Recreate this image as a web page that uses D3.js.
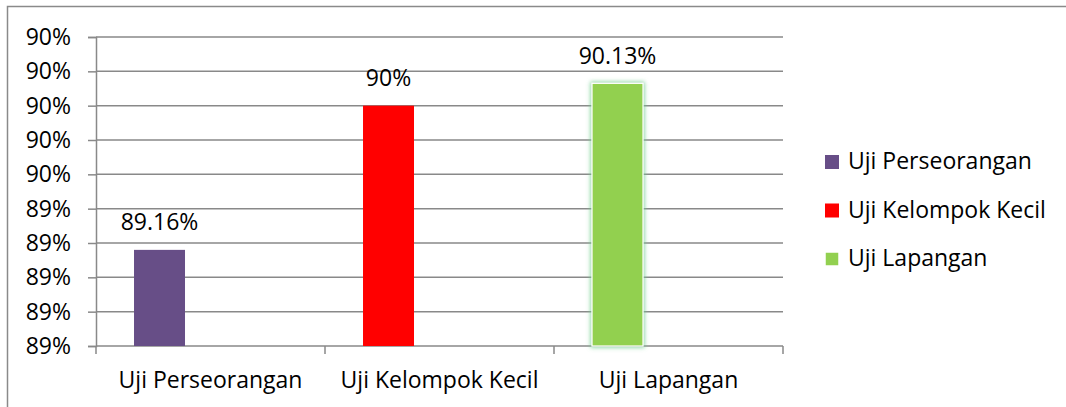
<!DOCTYPE html>
<meta charset="utf-8">
<html lang="id">
<head>
<title>Uji chart</title>
<script src="https://d3js.org/d3.v7.min.js"></script>
<style>
  body { margin: 0; background: #fff; }
  svg text { font-family: "Open Sans", "Noto Sans", sans-serif; fill: #000; }
</style>
</head>
<body>
<svg id="chart" width="1066" height="407"></svg>
<script>

var categories = ["Uji Perseorangan", "Uji Kelompok Kecil", "Uji Lapangan"]
var values = [89.16, 90, 90.13]
var valueLabels = ["89.16%", "90%", "90.13%"]
var yTicks = [88.6, 88.8, 89.0, 89.2, 89.4, 89.6, 89.8, 90.0, 90.2, 90.4]
var barColors = ["#674e87", "#ff0000", "#92d050"]

var svg = d3.select('#chart')

// soft green glow round the last bar
var defs = svg.append('defs')
var glow = defs.append('filter').attr('id', 'glow')
  .attr('x', '-40%').attr('y', '-10%').attr('width', '180%').attr('height', '120%')
glow.append('feMorphology').attr('in', 'SourceAlpha').attr('operator', 'dilate').attr('radius', 1).attr('result', 'fat')
glow.append('feGaussianBlur').attr('in', 'fat').attr('stdDeviation', 2.2).attr('result', 'blur')
glow.append('feFlood').attr('flood-color', '#74cf92').attr('flood-opacity', 0.85)
glow.append('feComposite').attr('in2', 'blur').attr('operator', 'in').attr('result', 'halo')
var merge = glow.append('feMerge')
merge.append('feMergeNode').attr('in', 'halo')
merge.append('feMergeNode').attr('in', 'SourceGraphic')

// outer frame (only top and left edges show)
svg.append('rect')
  .attr('x', 7.5).attr('y', 6.5).attr('width', 1200).attr('height', 600)
  .attr('fill', 'none').attr('stroke', '#8a8a8a').attr('stroke-width', 1.5)

var plotLeft = 96, plotRight = 783, plotTop = 37, plotBottom = 346

var x0 = d3.scaleBand().domain(categories).range([plotLeft, plotRight]).padding(0)
var bw = x0.bandwidth()
var cluster = bw * 0.668
var x1 = d3.scaleBand().domain([0, 1, 2]).range([(bw - cluster) / 2, (bw + cluster) / 2])

var y = d3.scaleLinear().domain([88.6, 90.4]).range([plotBottom, plotTop])

// gridlines
svg.append('g').selectAll('line')
  .data(yTicks.slice(1))
  .enter().append('line')
    .attr('x1', plotLeft).attr('x2', plotRight)
    .attr('y1', function (d) { return y(d) }).attr('y2', function (d) { return y(d) })
    .attr('stroke', '#898989').attr('stroke-width', 1.5)

// y axis
var yAxis = d3.axisLeft(y).tickValues(yTicks).tickSize(8)
  .tickFormat(function (d) { return Math.round(d) + '%' })
var gy = svg.append('g').attr('transform', 'translate(' + plotLeft + ',0)').call(yAxis)
gy.select('.domain').attr('stroke', '#898989').attr('stroke-width', 1.5)
gy.selectAll('.tick line').attr('stroke', '#898989').attr('stroke-width', 1.5)
gy.selectAll('.tick text').attr('x', -25).attr('font-size', 23)
  .style('font-family', '"Open Sans", sans-serif')

// x axis
var xAxis = d3.axisBottom(x0).tickSize(0).tickPadding(0)
var gx = svg.append('g').attr('transform', 'translate(0,' + plotBottom + ')').call(xAxis)
gx.select('.domain').remove()
gx.selectAll('.tick text').attr('y', 42).attr('dy', 0).attr('font-size', 23)
  .style('font-family', '"Open Sans", sans-serif')

svg.append('line')
  .attr('x1', plotLeft).attr('x2', plotRight).attr('y1', plotBottom).attr('y2', plotBottom)
  .attr('stroke', '#898989').attr('stroke-width', 1.5)
svg.append('g').selectAll('line')
  .data(d3.range(categories.length + 1))
  .enter().append('line')
    .attr('x1', function (i) { return plotLeft + i * bw }).attr('x2', function (i) { return plotLeft + i * bw })
    .attr('y1', plotBottom).attr('y2', plotBottom + 8)
    .attr('stroke', '#898989').attr('stroke-width', 1.5)

// bars
var bars = svg.append('g').selectAll('rect')
  .data(values)
  .enter().append('rect')
    .attr('x', function (d, i) { return x0(categories[i]) + x1(0) })
    .attr('width', x1.bandwidth())
    .attr('y', function (d) { return y(d) })
    .attr('height', function (d) { return plotBottom - y(d) })
    .attr('fill', function (d, i) { return barColors[i] })
bars.filter(function (d, i) { return i === 2 })
  .attr('stroke', '#fff').attr('stroke-width', 1.2)
  .attr('filter', 'url(#glow)')

svg.append('g').selectAll('text')
  .data(values)
  .enter().append('text')
    .attr('x', function (d, i) { return x0(categories[i]) + x1(0) + x1.bandwidth() / 2 })
    .attr('y', function (d) { return y(d) - 19.5 })
    .attr('text-anchor', 'middle')
    .attr('font-size', 23)
    .text(function (d, i) { return valueLabels[i] })

// legend
var legend = svg.append('g').selectAll('g')
  .data(categories)
  .enter().append('g')
    .attr('transform', function (d, i) { return 'translate(825,' + (169 + i * 48.5) + ')' })
legend.append('rect')
  .attr('x', 0).attr('y', -14).attr('width', 14).attr('height', 14)
  .attr('fill', function (d, i) { return barColors[i] })
  .attr('stroke', function (d, i) { return i === 2 ? '#fff' : 'none' })
  .attr('stroke-width', 1.5)
legend.append('text')
  .attr('x', 23).attr('y', 0)
  .attr('font-size', 23)
  .text(function (d) { return d })
</script>
</body>
</html>
